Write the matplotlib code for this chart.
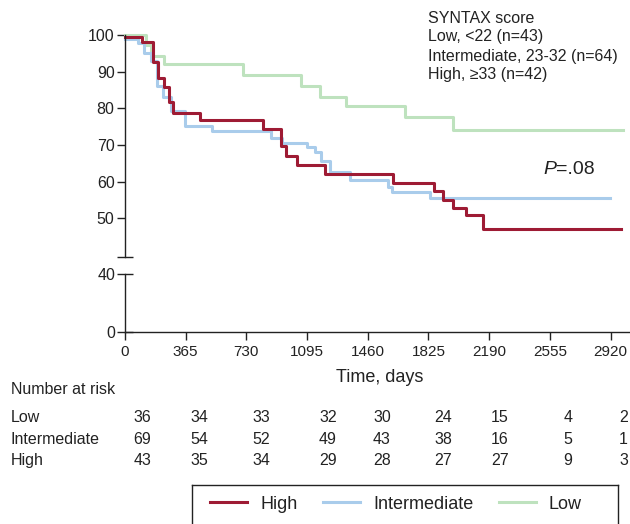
import matplotlib
matplotlib.use("Agg")
import matplotlib.pyplot as plt
from matplotlib.lines import Line2D

plt.rcParams['font.family'] = ['Liberation Sans', 'DejaVu Sans']

# Kaplan-Meier style survival (%)
low_t = [0, 124, 156, 236, 708, 1057, 1173, 1327, 1684, 1973, 2995]
low_s = [100, 97.3, 94.3, 92.1, 89.1, 86.1, 83.0, 80.6, 77.6, 74.1, 74.1]

int_t = [0, 80, 116, 155, 190, 230, 275, 361, 521, 876, 942, 1093, 1143,
         1180, 1233, 1355, 1584, 1606, 1834, 2917]
int_s = [98.9, 97.7, 95.0, 92.8, 86.1, 83.0, 79.2, 75.2, 73.8, 71.8, 70.6, 69.3, 68.0,
         65.5, 62.7, 60.5, 58.6, 57.1, 55.5, 55.5]

high_t = [0, 104, 170, 200, 236, 267, 291, 451, 830, 938, 970, 1033, 1203,
          1610, 1861, 1911, 1971, 2051, 2155, 2981]
high_s = [99.5, 98.2, 92.6, 88.4, 85.9, 81.6, 78.6, 76.8, 74.4, 69.7, 67.0, 64.5, 62.2,
          59.6, 57.3, 55.0, 52.9, 50.9, 47.0, 47.0]

xticks = [0, 365, 730, 1095, 1460, 1825, 2190, 2555, 2920]
upper_yticks = [50, 60, 70, 80, 90, 100]
lower_yticks = [0, 40]

groups = ['Low', 'Intermediate', 'High']
at_risk = {
    'Low': [36, 34, 33, 32, 30, 24, 15, 4, 2],
    'Intermediate': [69, 54, 52, 49, 43, 38, 16, 5, 1],
    'High': [43, 35, 34, 29, 28, 27, 27, 9, 3],
}
syntax_lines = ['SYNTAX score', 'Low, <22 (n=43)',
                'Intermediate, 23-32 (n=64)', 'High, \u226533 (n=42)']

c_high = '#9E1B34'
c_int = '#A9CCEB'
c_low = '#BEE2BE'
axcol = '#222222'

W, H = 630, 524


def fx(x):
    return x / W


def fy(y):
    return 1 - y / H


fig = plt.figure(figsize=(6.3, 5.24), dpi=100)

xmax = 3030
px_per_day = 0.16627
ax_w = xmax * px_per_day

# upper part of the broken axis
top_px = 32.8
bot_px = 256.7
ax = fig.add_axes([fx(125), fy(bot_px), ax_w / W, (bot_px - top_px) / H])
ax.set_xlim(0, xmax)
ax.set_ylim(39.5, 100.6)
for s in ['top', 'right', 'bottom']:
    ax.spines[s].set_visible(False)
ax.spines['left'].set_bounds(39.5, 100)
ax.spines['left'].set_color(axcol)
ax.spines['left'].set_linewidth(1.0)
ax.set_xticks([])
ax.set_yticks(upper_yticks)
ax.set_yticks([39.5], minor=True)
ax.tick_params(axis='y', which='major', direction='out', length=6, width=1.0,
               color=axcol, labelsize=11.5, pad=1.5, labelcolor=axcol)
ax.tick_params(axis='y', which='minor', direction='inout', length=11, width=1.0,
               color=axcol)

ax.step(low_t, low_s, where='post', color=c_low, lw=2.2, clip_on=False)
ax.step(int_t, int_s, where='post', color=c_int, lw=2.2, clip_on=False)
ax.step(high_t, high_s, where='post', color=c_high, lw=2.2, clip_on=False)

# lower part
ax2 = fig.add_axes([fx(125), fy(332), ax_w / W, 58 / H])
ax2.set_xlim(0, xmax)
ax2.set_ylim(0, 40)
for s in ['top', 'right']:
    ax2.spines[s].set_visible(False)
ax2.spines['left'].set_bounds(0, 40)
for s in ['left', 'bottom']:
    ax2.spines[s].set_color(axcol)
    ax2.spines[s].set_linewidth(1.0)
ax2.set_yticks(lower_yticks)
ax2.set_xticks(xticks)
ax2.tick_params(axis='y', direction='inout', length=11, width=1.0, color=axcol,
                labelsize=11.5, pad=1.5, labelcolor=axcol)
ax2.tick_params(axis='x', direction='out', length=6, width=1.0, color=axcol,
                labelsize=11, pad=3.5, labelcolor=axcol)

fig.text(fx(380), fy(377.7), 'Time, days', ha='center', va='center',
         fontsize=13, color=axcol)

# legend-like title block, top right
for i, line in enumerate(syntax_lines):
    fig.text(fx(427.7), fy([18.3, 36.7, 56, 75][i]), line, ha='left', va='center',
             fontsize=11.5, color=axcol)

fig.text(fx(556), fy(169), 'P', ha='right', va='center', fontsize=14,
         style='italic', color=axcol)
fig.text(fx(556), fy(169), '=.08', ha='left', va='center', fontsize=14,
         color=axcol)

# number at risk table
fig.text(fx(10.7), fy(389), 'Number at risk', ha='left', va='center',
         fontsize=11.5, color=axcol)
col_x = [142.3, 199.3, 261, 328, 382, 443.3, 500, 567.7, 623.5]
row_y = [417.7, 439, 460.7]
for g, ry in zip(groups, row_y):
    fig.text(fx(10.7), fy(ry), g, ha='left', va='center', fontsize=11.5,
             color=axcol)
    for cx, n in zip(col_x, at_risk[g]):
        fig.text(fx(cx), fy(ry), str(n), ha='center', va='center',
                 fontsize=11.5, color=axcol)

# bottom legend box (runs off the bottom edge)
axl = fig.add_axes([fx(192.3), fy(565), 426 / W, (565 - 485) / H])
axl.set_xticks([])
axl.set_yticks([])
axl.patch.set_alpha(0)
for s in axl.spines.values():
    s.set_color(axcol)
    s.set_linewidth(1.0)
handles = [Line2D([], [], color=c_high, lw=2.2),
           Line2D([], [], color=c_int, lw=2.2),
           Line2D([], [], color=c_low, lw=2.2)]
axl.legend(handles, ['High', 'Intermediate', 'Low'], loc='center',
           bbox_to_anchor=(fx(396), fy(504.3)), bbox_transform=fig.transFigure,
           ncol=3, frameon=False, fontsize=13, handlelength=2.05,
           handletextpad=0.72, columnspacing=1.4, labelcolor=axcol)

fig.savefig('out.png', dpi=100)
